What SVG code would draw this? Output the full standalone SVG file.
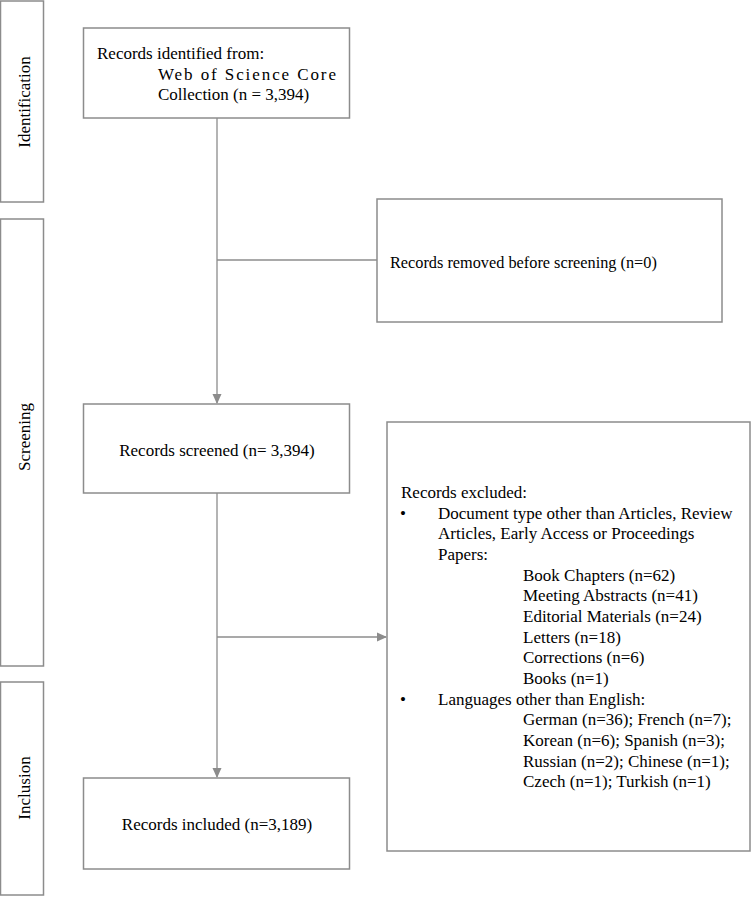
<svg xmlns="http://www.w3.org/2000/svg" width="751" height="897" viewBox="0 0 751 897">
<defs>
<style>
.box{fill:#fff;stroke:#8c8c8c;stroke-width:1.5}
.t{font-family:"Liberation Serif","Times New Roman",serif;font-size:17px;fill:#000}
.ln{stroke:#8c8c8c;stroke-width:1.3;fill:none}
</style>
<marker id="ah" markerWidth="10" markerHeight="10" refX="9" refY="5" orient="auto" markerUnits="userSpaceOnUse">
<path d="M0,0.5 L10,5 L0,9.5 Z" fill="#8c8c8c"/>
</marker>
</defs>
<rect width="751" height="897" fill="#fff"/>
<g id="phase-identification">
<rect class="box" x="0.5" y="1" width="43" height="201"/>
<text class="t" transform="translate(30,102) rotate(-90)" text-anchor="middle">Identification</text>
</g>
<g id="phase-screening">
<rect class="box" x="0.5" y="219" width="43" height="447"/>
<text class="t" transform="translate(30,437) rotate(-90)" text-anchor="middle">Screening</text>
</g>
<g id="phase-inclusion">
<rect class="box" x="0.5" y="682" width="43" height="213"/>
<text class="t" transform="translate(30,788) rotate(-90)" text-anchor="middle">Inclusion</text>
</g>
<g id="connectors">
<line class="ln" x1="217" y1="118" x2="217" y2="403" marker-end="url(#ah)"/>
<line class="ln" x1="217" y1="260" x2="386" y2="260" marker-end="url(#ah)"/>
<line class="ln" x1="217" y1="493" x2="217" y2="777" marker-end="url(#ah)"/>
<line class="ln" x1="217" y1="637" x2="386" y2="637" marker-end="url(#ah)"/>
</g>
<g id="identified">
<rect class="box" x="83.5" y="28" width="266" height="90"/>
<text class="t" x="97" y="59">Records identified from:</text>
<text class="t" x="158" y="80" textLength="178" lengthAdjust="spacing">Web of Science Core</text>
<text class="t" x="158" y="100">Collection (n = 3,394)</text>
</g>
<g id="removed">
<rect class="box" x="377" y="199" width="345" height="123"/>
<text class="t" x="390" y="268" style="font-size:16.3px">Records removed before screening (n=0)</text>
</g>
<g id="screened">
<rect class="box" x="83.5" y="404" width="266" height="89"/>
<text class="t" x="217" y="456" text-anchor="middle">Records screened (n= 3,394)</text>
</g>
<g id="excluded">
<rect class="box" x="387" y="422" width="363" height="429"/>
<text class="t" x="401" y="498">Records excluded:</text>
<text class="t" x="400" y="519">•</text>
<text class="t" x="438" y="519">Document type other than Articles, Review</text>
<text class="t" x="438" y="539">Articles, Early Access or Proceedings</text>
<text class="t" x="438" y="560">Papers:</text>
<text class="t" x="523" y="581">Book Chapters (n=62)</text>
<text class="t" x="523" y="601">Meeting Abstracts (n=41)</text>
<text class="t" x="523" y="622">Editorial Materials (n=24)</text>
<text class="t" x="523" y="643">Letters (n=18)</text>
<text class="t" x="523" y="663">Corrections (n=6)</text>
<text class="t" x="523" y="684">Books (n=1)</text>
<text class="t" x="400" y="705">•</text>
<text class="t" x="438" y="705">Languages other than English:</text>
<text class="t" x="523" y="725">German (n=36); French (n=7);</text>
<text class="t" x="523" y="746">Korean (n=6); Spanish (n=3);</text>
<text class="t" x="523" y="767">Russian (n=2); Chinese (n=1);</text>
<text class="t" x="523" y="787">Czech (n=1); Turkish (n=1)</text>
</g>
<g id="included">
<rect class="box" x="83.5" y="778" width="266" height="91"/>
<text class="t" x="217" y="830" text-anchor="middle">Records included (n=3,189)</text>
</g>
</svg>
